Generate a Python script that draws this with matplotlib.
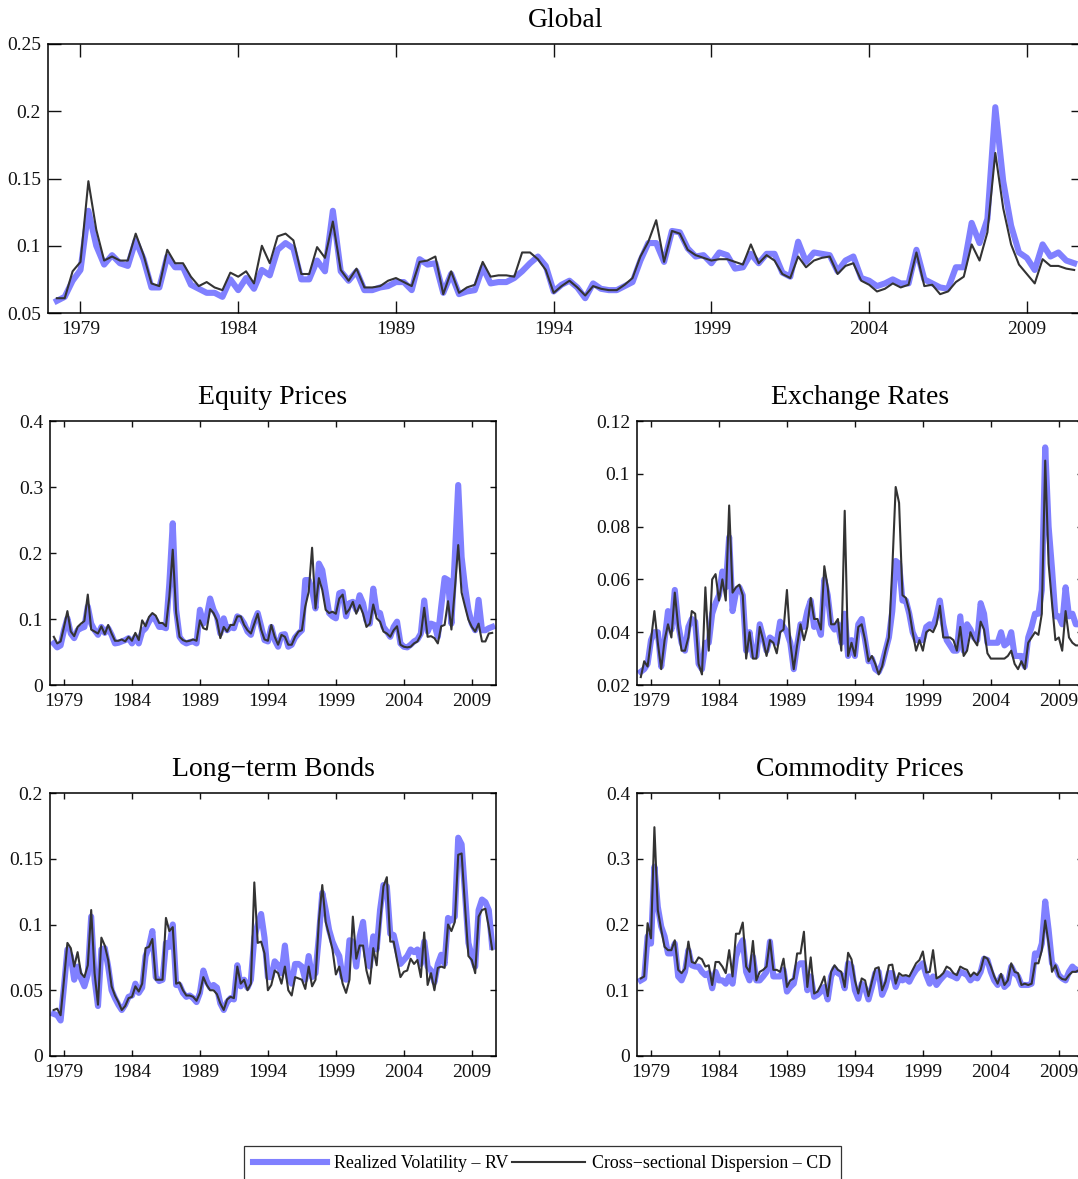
import numpy as np
import matplotlib
matplotlib.use("Agg")
import matplotlib.pyplot as plt
from matplotlib.lines import Line2D

plt.rcParams["font.family"] = ["Liberation Serif", "DejaVu Serif"]

# quarterly observations, 1978Q2 .. 2010Q3 (130 quarters)
first_quarter = 1978.25
n_quarters = 130
dates = first_quarter + 0.25 * np.arange(n_quarters)

year_ticks = [1979, 1984, 1989, 1994, 1999, 2004, 2009]

# Global
global_rv = [
    .059, .062, .074, .082, .126, .100, .086, .093, .087, .085, .104, .090,
    .069, .069, .092, .084, .084, .071, .068, .065, .065, .062, .075, .067,
    .076, .068, .082, .078, .097, .102, .098, .075, .075, .089, .081, .126,
    .081, .074, .081, .067, .067, .069, .070, .073, .073, .067, .090, .086,
    .087, .065, .079, .064, .066, .067, .084, .072, .073, .073, .076, .081,
    .087, .092, .085, .066, .071, .074, .069, .061, .072, .068, .067, .067,
    .070, .073, .089, .102, .102, .088, .111, .110, .098, .092, .093, .087,
    .095, .093, .083, .084, .094, .087, .094, .094, .080, .077, .103, .088,
    .095, .094, .093, .081, .089, .092, .076, .074, .070, .072, .075, .072,
    .072, .097, .075, .072, .069, .068, .084, .084, .117, .102, .120, .203,
    .148, .115, .095, .091, .082, .101, .092, .095, .089, .087,
]
global_cd = [
    .061, .061, .081, .088, .148, .112, .089, .092, .089, .089, .109, .093,
    .072, .070, .097, .087, .087, .077, .070, .073, .069, .067, .080, .077,
    .081, .072, .100, .087, .107, .109, .104, .079, .079, .099, .091, .118,
    .082, .074, .083, .069, .069, .070, .074, .076, .073, .070, .088, .089,
    .092, .064, .081, .065, .069, .071, .088, .077, .078, .078, .077, .095,
    .095, .090, .082, .065, .070, .074, .069, .063, .070, .068, .067, .067,
    .071, .076, .092, .103, .119, .088, .111, .109, .097, .093, .091, .089,
    .090, .090, .088, .086, .101, .087, .093, .089, .079, .076, .092, .084,
    .089, .091, .092, .079, .085, .087, .074, .071, .066, .068, .072, .069,
    .071, .095, .070, .071, .064, .066, .073, .077, .101, .089, .110, .169,
    .128, .101, .086, .079, .072, .090, .085, .085, .083, .082,
]

# Equity Prices
equity_rv = [
    .063, .057, .060, .083, .101, .078, .071, .083, .086, .088, .119, .093,
    .083, .076, .088, .079, .086, .076, .063, .064, .066, .068, .071, .063,
    .073, .063, .081, .086, .096, .104, .098, .088, .088, .086, .154, .245,
    .114, .073, .066, .063, .065, .066, .063, .114, .093, .104, .131, .114,
    .104, .078, .101, .083, .088, .086, .104, .101, .093, .081, .076, .096,
    .109, .089, .068, .066, .088, .068, .058, .076, .077, .058, .061, .072,
    .078, .083, .159, .159, .144, .116, .184, .174, .141, .109, .104, .101,
    .139, .141, .104, .124, .126, .114, .136, .124, .098, .093, .146, .111,
    .109, .088, .081, .073, .088, .096, .063, .058, .057, .061, .066, .069,
    .078, .128, .081, .093, .091, .073, .119, .162, .159, .093, .194, .303,
    .194, .149, .114, .093, .083, .129, .083, .083, .086, .088,
]
equity_cd = [
    .073, .063, .066, .088, .112, .081, .074, .088, .093, .097, .137, .084,
    .081, .078, .089, .077, .091, .078, .067, .067, .069, .066, .073, .067,
    .079, .068, .098, .089, .103, .109, .105, .094, .094, .089, .134, .205,
    .109, .073, .068, .066, .067, .069, .067, .098, .086, .084, .115, .109,
    .098, .071, .088, .081, .091, .091, .104, .104, .091, .083, .078, .093,
    .108, .084, .069, .067, .091, .073, .061, .076, .073, .061, .061, .073,
    .081, .083, .119, .141, .208, .116, .162, .144, .114, .109, .111, .108,
    .131, .137, .108, .115, .126, .108, .121, .108, .088, .093, .122, .101,
    .096, .081, .078, .073, .083, .089, .061, .058, .057, .058, .063, .066,
    .076, .117, .073, .074, .071, .063, .089, .091, .127, .084, .144, .212,
    .140, .119, .099, .088, .081, .093, .066, .066, .078, .079,
]

# Exchange Rates
fx_rv = [
    .025, .026, .028, .037, .040, .040, .027, .037, .048, .041, .056, .043,
    .036, .033, .042, .045, .044, .028, .026, .036, .036, .047, .051, .054,
    .063, .057, .076, .048, .055, .057, .054, .033, .040, .031, .031, .043,
    .038, .033, .038, .037, .036, .044, .042, .040, .036, .026, .035, .043,
    .042, .048, .052, .042, .043, .039, .060, .054, .043, .041, .043, .036,
    .047, .031, .037, .031, .043, .045, .037, .029, .030, .026, .025, .028,
    .033, .038, .048, .067, .066, .052, .052, .047, .040, .037, .037, .037,
    .042, .043, .042, .046, .052, .043, .037, .035, .033, .033, .046, .033,
    .043, .041, .038, .037, .051, .047, .036, .036, .036, .036, .040, .035,
    .036, .040, .031, .031, .031, .027, .038, .042, .047, .047, .056, .110,
    .080, .064, .046, .046, .043, .057, .046, .047, .043, .043,
]
fx_cd = [
    .023, .029, .027, .037, .048, .036, .026, .037, .043, .038, .055, .042,
    .033, .033, .038, .048, .047, .028, .024, .057, .033, .060, .062, .052,
    .060, .052, .088, .055, .057, .058, .054, .030, .040, .030, .030, .042,
    .037, .031, .037, .036, .032, .040, .041, .056, .036, .026, .035, .043,
    .037, .042, .053, .045, .045, .041, .065, .057, .043, .043, .045, .033,
    .086, .031, .036, .031, .042, .043, .037, .029, .031, .028, .024, .027,
    .033, .038, .064, .095, .089, .054, .053, .048, .040, .033, .037, .033,
    .040, .041, .040, .043, .050, .038, .038, .038, .037, .033, .042, .031,
    .033, .040, .037, .035, .044, .041, .032, .030, .030, .030, .030, .030,
    .031, .033, .028, .026, .029, .026, .036, .038, .040, .039, .047, .105,
    .066, .051, .037, .038, .033, .048, .038, .036, .035, .035,
]

# Long-term Bonds
bonds_rv = [
    .032, .031, .027, .053, .081, .076, .058, .068, .059, .053, .062, .106,
    .058, .038, .081, .082, .068, .050, .044, .039, .035, .039, .045, .046,
    .055, .048, .052, .076, .083, .095, .060, .057, .058, .086, .083, .100,
    .054, .054, .048, .045, .046, .044, .041, .048, .065, .057, .052, .054,
    .052, .040, .035, .041, .044, .043, .069, .053, .058, .052, .058, .090,
    .100, .108, .090, .060, .060, .072, .069, .063, .084, .060, .055, .070,
    .070, .068, .058, .076, .060, .063, .091, .124, .111, .096, .087, .081,
    .076, .060, .058, .088, .087, .068, .091, .102, .076, .068, .091, .081,
    .111, .130, .129, .093, .092, .081, .070, .073, .076, .081, .079, .081,
    .070, .087, .068, .065, .056, .070, .077, .070, .105, .103, .106, .166,
    .161, .124, .086, .076, .068, .111, .119, .117, .111, .083,
]
bonds_cd = [
    .035, .036, .031, .058, .086, .082, .068, .079, .063, .060, .069, .111,
    .063, .039, .090, .084, .073, .053, .046, .041, .035, .038, .044, .045,
    .053, .049, .055, .082, .083, .089, .058, .058, .058, .105, .095, .098,
    .055, .056, .050, .046, .046, .045, .042, .048, .060, .054, .050, .050,
    .047, .040, .035, .043, .045, .044, .068, .055, .058, .050, .055, .132,
    .086, .087, .078, .050, .054, .065, .063, .055, .068, .050, .046, .060,
    .059, .058, .051, .068, .053, .058, .103, .130, .102, .092, .081, .062,
    .068, .055, .048, .058, .106, .074, .084, .084, .065, .055, .082, .069,
    .101, .129, .136, .087, .087, .073, .060, .064, .065, .074, .070, .073,
    .060, .094, .054, .063, .050, .067, .068, .067, .100, .095, .102, .153,
    .154, .114, .076, .073, .063, .106, .111, .112, .098, .081,
]

# Commodity Prices
commod_rv = [
    .115, .118, .182, .171, .288, .227, .197, .182, .156, .156, .171, .121,
    .115, .128, .161, .138, .136, .136, .128, .123, .126, .103, .128, .115,
    .115, .110, .121, .110, .151, .166, .176, .128, .115, .151, .115, .115,
    .121, .128, .174, .121, .121, .121, .131, .098, .105, .110, .136, .141,
    .141, .100, .121, .090, .093, .098, .105, .086, .121, .133, .126, .123,
    .103, .141, .136, .100, .087, .110, .103, .086, .105, .126, .128, .093,
    .105, .126, .126, .105, .118, .115, .118, .113, .123, .131, .136, .141,
    .123, .110, .121, .108, .115, .121, .126, .123, .121, .118, .128, .126,
    .123, .115, .121, .118, .128, .148, .146, .128, .115, .108, .121, .105,
    .110, .136, .126, .121, .108, .108, .108, .110, .156, .154, .171, .235,
    .192, .141, .136, .123, .118, .115, .128, .136, .131, .131,
]
commod_cd = [
    .118, .121, .202, .179, .348, .222, .192, .166, .161, .161, .176, .131,
    .126, .133, .174, .143, .141, .150, .147, .136, .138, .108, .143, .143,
    .136, .126, .161, .121, .186, .186, .203, .136, .128, .175, .115, .128,
    .131, .136, .176, .131, .131, .128, .148, .105, .115, .118, .156, .156,
    .189, .105, .150, .095, .098, .108, .121, .091, .128, .138, .131, .128,
    .105, .157, .147, .115, .095, .118, .115, .091, .113, .133, .135, .100,
    .113, .138, .139, .110, .126, .122, .123, .121, .131, .141, .146, .159,
    .127, .128, .161, .118, .121, .126, .136, .133, .126, .123, .136, .133,
    .131, .121, .127, .123, .131, .151, .148, .136, .121, .110, .125, .108,
    .115, .141, .128, .126, .108, .110, .108, .110, .141, .141, .161, .206,
    .171, .128, .138, .121, .117, .116, .123, .128, .128, .131,
]

global_yticks = [0.05, 0.1, 0.15, 0.2, 0.25]
equity_yticks = [0, 0.1, 0.2, 0.3, 0.4]
fx_yticks = [0.02, 0.04, 0.06, 0.08, 0.1, 0.12]
bonds_yticks = [0, 0.05, 0.1, 0.15, 0.2]
commod_yticks = [0, 0.1, 0.2, 0.3, 0.4]

for s in (global_rv, global_cd, equity_rv, equity_cd, fx_rv, fx_cd,
          bonds_rv, bonds_cd, commod_rv, commod_cd):
    assert len(s) == n_quarters, len(s)

RV_COLOR = "#8080ff"
CD_COLOR = "#333333"
W, H = 1078, 1179

fig = plt.figure(figsize=(W / 100, H / 100), dpi=100)


def px_rect(left, top, right, bottom):
    return [left / W, 1 - bottom / H, (right - left) / W, (bottom - top) / H]


def panel(rect, title, rv, cd, yticks, ticklen):
    ax = fig.add_axes(rect)
    ax.plot(dates, rv, color=RV_COLOR, lw=4.4, solid_joinstyle="round")
    ax.plot(dates, cd, color=CD_COLOR, lw=1.5)
    ax.set_xlim(1977.97, 2010.78)
    ax.set_ylim(yticks[0], yticks[-1])
    ax.set_xticks(year_ticks)
    ax.set_xticklabels([str(y) for y in year_ticks])
    ax.set_yticks(yticks)
    ax.set_yticklabels([f"{v:g}" for v in yticks])
    ax.tick_params(direction="in", top=True, right=True, length=ticklen,
                   width=1, labelsize=14, colors="#111111")
    ax.tick_params(axis="y", pad=5)
    ax.tick_params(axis="x", pad=6)
    for sp in ax.spines.values():
        sp.set_linewidth(1.1)
    ax.set_title(title, fontsize=20, pad=12)
    return ax


panel(px_rect(48, 44, 1083, 313), "Global", global_rv, global_cd,
      global_yticks, 9)
panel(px_rect(50, 421, 496, 685), "Equity Prices", equity_rv, equity_cd,
      equity_yticks, 4)
panel(px_rect(637, 421, 1083, 685), "Exchange Rates", fx_rv, fx_cd,
      fx_yticks, 4)
panel(px_rect(50, 793, 496, 1056), "Long\u2212term Bonds", bonds_rv, bonds_cd,
      bonds_yticks, 4)
panel(px_rect(637, 793, 1083, 1056), "Commodity Prices", commod_rv, commod_cd,
      commod_yticks, 4)

handles = [Line2D([], [], color=RV_COLOR, lw=4.4),
           Line2D([], [], color=CD_COLOR, lw=1.5)]
labels = ["Realized Volatility \u2013 RV",
          "Cross\u2212sectional Dispersion \u2013 CD"]
leg = fig.legend(handles, labels, loc="upper center",
                 bbox_to_anchor=(542.5 / W, 1 - 1146 / H), ncol=2,
                 frameon=True, fancybox=False, edgecolor="black",
                 fontsize=12.9, handlelength=4.1, handletextpad=0.4,
                 columnspacing=0.2, borderpad=0.5, borderaxespad=0)
leg.get_frame().set_linewidth(0.9)

fig.savefig("out.png", dpi=100)
